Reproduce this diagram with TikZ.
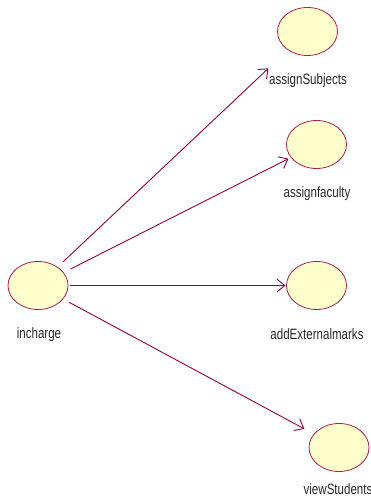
\documentclass[tikz,border=0pt]{standalone}
\usepackage{fontspec}
\setmainfont{Liberation Sans}
\usetikzlibrary{arrows.meta,shapes.geometric}
\definecolor{ucborder}{RGB}{170,30,80}
\definecolor{ucfill}{RGB}{255,255,204}
\definecolor{arrowc}{RGB}{150,0,60}
\tikzset{
  usecase/.style={ellipse, draw=ucborder, fill=ucfill, line width=0.8pt, minimum width=60pt, minimum height=48pt, inner sep=0pt, outer sep=0pt},
  lbl/.style={inner sep=0pt, font=\fontsize{15}{15}\selectfont, text=black!85},
  assoc/.style={draw=arrowc, line width=0.9pt, -{Straight Barb[length=8pt,width=13pt,line width=0.9pt]}}
}
\newcommand{\narrow}[1]{\scalebox{0.77}[1]{#1}}
\begin{document}
\begin{tikzpicture}[x=1pt,y=-1pt]
\useasboundingbox (0,0) rectangle (371,502);
\node[usecase] (inc) at (38,285.5) {};
\node[usecase] (as) at (307.5,31.5) {};
\node[usecase] (af) at (316.5,144.5) {};
\node[usecase] (ae) at (316.5,285.5) {};
\node[usecase] (vs) at (339,447.5) {};
\node[lbl] (incl) at (39,335) {\narrow{incharge}};
\node[lbl] (asl) at (308,81) {\narrow{assignSubjects}};
\node[lbl] (afl) at (317,194) {\narrow{assignfaculty}};
\node[lbl] (ael) at (317,334) {\narrow{addExternalmarks}};
\node[lbl] (vsl) at (338,489) {\narrow{viewStudents}};
\draw[assoc, shorten <=8pt, shorten >=27pt] (inc) -- (as);
\draw[assoc, shorten <=8pt, shorten >=3pt] (inc) -- (af);
\draw[assoc, shorten <=2pt, shorten >=1pt] (inc) -- (ae);
\draw[assoc, shorten <=7pt, shorten >=11pt] (inc) -- (vs);
\end{tikzpicture}
\end{document}
